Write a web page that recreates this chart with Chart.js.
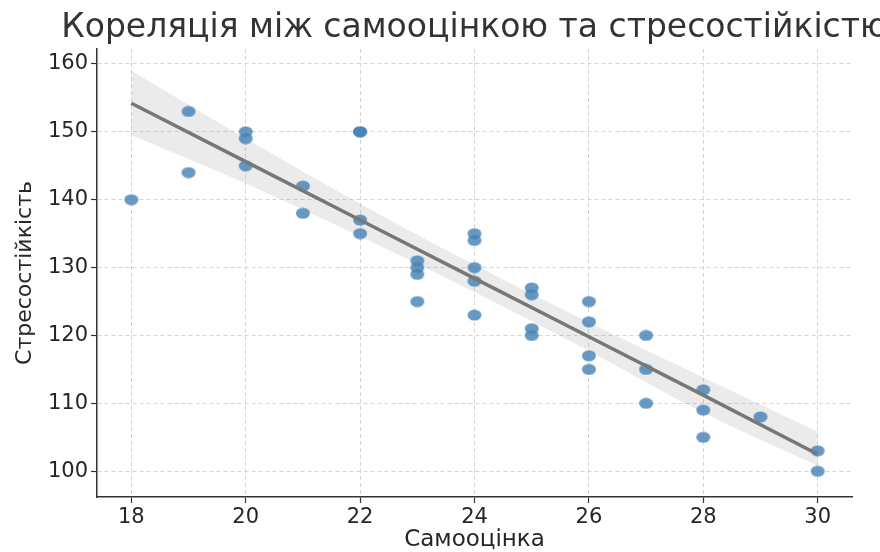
<!DOCTYPE html>
<html>
<head>
<meta charset="utf-8">
<script src="https://cdn.jsdelivr.net/npm/chart.js@4/dist/chart.umd.min.js"></script>
<style>
  html, body { margin: 0; padding: 0; background: #fff; }
  #wrap { width: 880px; height: 552px; }
</style>
</head>
<body>
<div id="wrap"><canvas id="chart" width="880" height="552"></canvas></div>
<script>
// ---- дані ----
const titleText = 'Кореляція між самооцінкою та стресостійкістю';
const xLabel = 'Самооцінка';
const yLabel = 'Стресостійкість';

const selfEsteem = [18, 19, 19, 20, 20, 20, 21, 21, 22, 22, 22, 22,
  23, 23, 23, 23, 24, 24, 24, 24, 24, 25, 25, 25, 25,
  26, 26, 26, 26, 27, 27, 27, 28, 28, 28, 29, 30, 30];
const stress = [140, 153, 144, 150, 149, 145, 142, 138, 150, 150, 137, 135,
  131, 130, 129, 125, 135, 134, 130, 128, 123, 127, 126, 121, 120,
  125, 122, 117, 115, 120, 115, 110, 112, 109, 105, 108, 103, 100];

// лінія регресії та довірчий інтервал
const fitX = [18, 20, 22, 24, 26, 28, 30];
const fitY = [154.2, 145.6, 137.0, 128.4, 119.8, 111.2, 102.5];
const ciUpper = [159.0, 149.0, 139.4, 130.4, 121.9, 113.8, 105.8];
const ciLower = [149.5, 142.4, 134.6, 126.4, 117.7, 108.6, 100.8];

const xTicks = [18, 20, 22, 24, 26, 28, 30];
const yTicks = [100, 110, 120, 130, 140, 150, 160];

// ---- побудова ----
const FONT = "'DejaVu Sans', sans-serif";
const TEXT = '#262626';

function pairs(xs, ys) {
  return xs.map((x, i) => ({ x: x, y: ys[i] }));
}

// еліптична точка як у seaborn
function makeDot() {
  const c = document.createElement('canvas');
  c.width = 16; c.height = 12;
  const g = c.getContext('2d');
  g.fillStyle = 'rgba(70,130,180,0.82)';
  g.beginPath();
  g.ellipse(8, 6, 7, 5.5, 0, 0, Math.PI * 2);
  g.fill();
  return c;
}

const titlePlugin = {
  id: 'topTitle',
  afterDraw(chart) {
    const ctx = chart.ctx;
    const a = chart.chartArea;
    ctx.save();
    ctx.font = '33px ' + FONT;
    ctx.fillStyle = '#333';
    ctx.textAlign = 'center';
    ctx.textBaseline = 'middle';
    ctx.fillText(titleText, (a.left + a.right) / 2, 28);
    ctx.restore();
  }
};

const gridOpts = { color: '#d4d4d4', tickLength: 6, tickColor: '#333', tickBorderDash: [], tickWidth: 1.2 };
const borderOpts = { color: '#333', width: 1.5, dash: [4, 3] };

new Chart(document.getElementById('chart'), {
  type: 'scatter',
  data: {
    datasets: [
      {
        type: 'line',
        data: pairs(fitX, ciLower),
        borderWidth: 0,
        pointRadius: 0,
        fill: false,
        cubicInterpolationMode: 'monotone',
        order: 3
      },
      {
        type: 'line',
        data: pairs(fitX, ciUpper),
        borderWidth: 0,
        pointRadius: 0,
        fill: '-1',
        backgroundColor: 'rgba(128,128,128,0.16)',
        cubicInterpolationMode: 'monotone',
        order: 2
      },
      {
        data: pairs(selfEsteem, stress),
        pointStyle: makeDot(),
        order: 1
      },
      {
        type: 'line',
        data: pairs(fitX, fitY),
        borderColor: '#777777',
        borderWidth: 3.5,
        pointRadius: 0,
        fill: false,
        order: 0
      }
    ]
  },
  options: {
    responsive: false,
    animation: false,
    events: [],
    layout: { padding: { top: 49, right: 28, left: 0, bottom: 0 } },
    plugins: { legend: { display: false }, tooltip: { enabled: false } },
    scales: {
      x: {
        type: 'linear',
        min: 17.4,
        max: 30.6,
        afterBuildTicks: s => { s.ticks = xTicks.map(v => ({ value: v })); },
        afterFit: s => { s.height = 55; },
        grid: gridOpts,
        border: borderOpts,
        ticks: { color: TEXT, font: { family: FONT, size: 21 }, padding: 2, maxRotation: 0 },
        title: { display: true, text: xLabel, color: TEXT, font: { family: FONT, size: 23, lineHeight: 1 }, padding: 0 }
      },
      y: {
        min: 96.2,
        max: 162.2,
        afterBuildTicks: s => { s.ticks = yTicks.map(v => ({ value: v })); },
        afterFit: s => { s.width = 97; },
        grid: gridOpts,
        border: borderOpts,
        ticks: { color: TEXT, font: { family: FONT, size: 21 }, padding: 3 },
        title: { display: true, text: yLabel, color: TEXT, font: { family: FONT, size: 22, lineHeight: 1 }, padding: { top: 14, bottom: 0 } }
      }
    }
  },
  plugins: [titlePlugin]
});
</script>
</body>
</html>
